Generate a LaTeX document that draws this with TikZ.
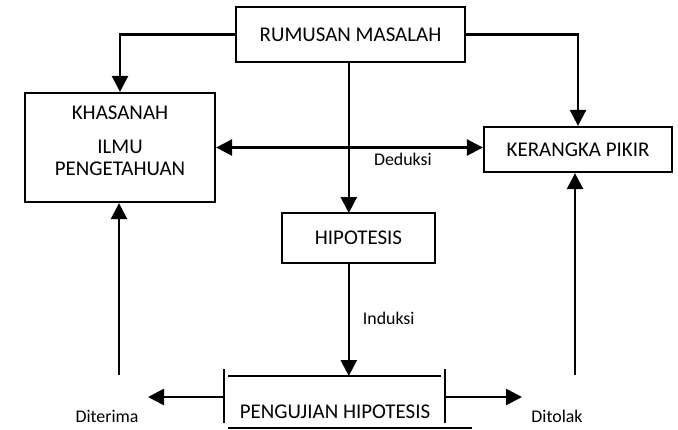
\documentclass[tikz,border=0pt]{standalone}
\usepackage{fontspec}
\setmainfont{Carlito}
\usepackage{tikz}
\usetikzlibrary{arrows.meta,calc,positioning}

\tikzset{
    box/.style={draw, line width=1.6pt, inner sep=0pt, align=center, font=\fontsize{14.9}{18}\selectfont},
    conn/.style={line width=1.8pt, >={Triangle[length=0.4cm,width=0.4cm]}},
    lbl/.style={font=\fontsize{12.7}{15}\selectfont, inner sep=2pt}
}

\begin{document}
\begin{tikzpicture}
        \useasboundingbox (0, 0) rectangle (16.95, -10.725);

        % boxes
        \node[box, minimum width=5.725cm, minimum height=1.375cm] (rumusan) at (8.7625, -0.8625) {RUMUSAN MASALAH};
        \node[box, minimum width=4.75cm, minimum height=2.725cm] (khasanah) at (3.0, -3.6875) {};
        \node[align=center, inner sep=0pt, font=\fontsize{14.9}{15.4}\selectfont] (khasanahtext) at ([yshift=0.17cm]khasanah.center) {KHASANAH\\[0.3cm]ILMU\\PENGETAHUAN};
        \node[box, minimum width=4.7cm, minimum height=1.125cm] (kerangka) at (14.45, -3.7375) {KERANGKA PIKIR};
        \node[box, minimum width=3.825cm, minimum height=1.25cm] (hipotesis) at (8.9625, -5.95) {HIPOTESIS};

        % pengujian hipotesis
        \node[inner sep=0pt, font=\fontsize{14.9}{18}\selectfont] (pengujian) at (8.375, -10.3) {PENGUJIAN HIPOTESIS};
        \coordinate (ujiTL) at (5.6, -9.225);
        \coordinate (ujiTR) at (11.125, -9.225);
        \draw[line width=1.6pt] (ujiTL) -- ++(0, -1.35);
        \draw[line width=1.6pt] (ujiTR) -- ++(0, -1.35);
        \draw[line width=1.6pt] (5.7, -9.4) -- (11.025, -9.4);
        \draw[line width=1.6pt] (5.7, -10.7) -- (11.8, -10.7);

        \node[lbl] (diterima) at (2.675, -10.42) {Diterima};
        \node[lbl] (ditolak) at (13.925, -10.42) {Ditolak};
        \coordinate (kiri) at (5.6, -9.925);
        \coordinate (kanan) at (11.125, -9.925);
        \coordinate (terimaup) at (2.975, -9.375);
        \coordinate (tolakup) at (14.375, -9.375);

        % connectors
        \draw[conn, ->] (rumusan.west) -| (khasanah.north);
        \draw[conn, ->] (rumusan.east) -| (kerangka.north);
        \draw[conn, ->] (rumusan.south -| 8.72, 0) -- (8.72, -5.325);
        \draw[conn, <->] (khasanah.east) -- node[lbl, below=0.05cm, pos=0.7]{Deduksi} (khasanah.east -| kerangka.west);
        \draw[conn, ->] (8.72, -6.575) -- node[lbl, right=0.25cm, pos=0.49]{Induksi} (8.72 , -9.4);
        \draw[conn, ->] (kiri) -- (3.7, -9.925);
        \draw[conn, ->] (kanan) -- (13.05, -9.925);
        \draw[conn, ->] (terimaup) -- (terimaup |- khasanah.south);
        \draw[conn, ->] (tolakup) -- (tolakup |- kerangka.south);
\end{tikzpicture}
\end{document}
